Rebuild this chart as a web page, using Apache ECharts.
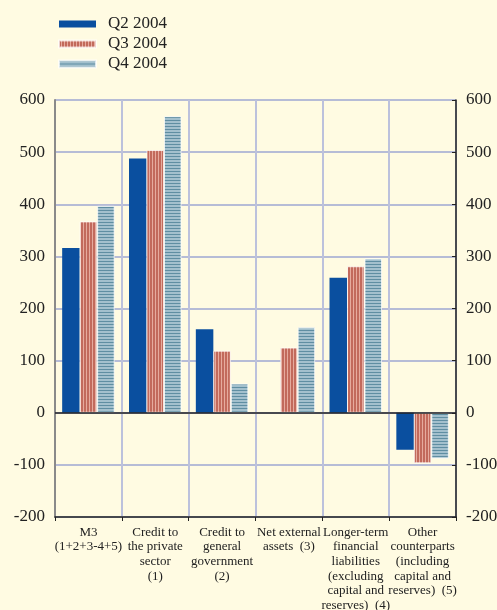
<!DOCTYPE html>
<html>
<head>
<meta charset="utf-8">
<script src="https://cdn.jsdelivr.net/npm/echarts@6/dist/echarts.min.js"></script>
<style>
  html, body { margin: 0; padding: 0; background: #fffbe2; }
  #chart { width: 497px; height: 610px; }
</style>
</head>
<body>
<div id="chart"></div>
<script>
// chart data
const categories = [
    'M3\n(1+2+3-4+5)',
    'Credit to\nthe private\nsector\n(1)',
    'Credit to\ngeneral\ngovernment\n(2)',
    'Net external\nassets  (3)',
    'Longer-term\nfinancial\nliabilities\n(excluding\ncapital and\nreserves)  (4)',
    'Other\ncounterparts\n(including\ncapital and\nreserves)  (5)'
];
const seriesNames = ['Q2 2004', 'Q3 2004', 'Q4 2004'];
const q2Values = [316, 488, 160, 0, 259, -71];
const q3Values = [367, 504, 119, 125, 281, -97];
const q4Values = [397, 569, 56, 164, 296, -88];
const yTicks = [-200, -100, 0, 100, 200, 300, 400, 500, 600];

const serif = '"Liberation Serif", "DejaVu Serif", serif';

// striped fills
const makePattern = (w, h, paint) => {
    const c = document.createElement('canvas');
    c.width = w;
    c.height = h;
    paint(c.getContext('2d'));
    return {image: c, repeat: 'repeat'};
};
const redStripes = makePattern(3, 1, ctx => {
    ctx.fillStyle = '#c26a5c';
    ctx.fillRect(0, 0, 2, 1);
    ctx.fillStyle = '#e6ab9e';
    ctx.fillRect(2, 0, 1, 1);
});
const blueStripes = makePattern(1, 3, ctx => {
    ctx.fillStyle = '#5f8ea2';
    ctx.fillRect(0, 0, 1, 1);
    ctx.fillStyle = '#a3c0cd';
    ctx.fillRect(0, 1, 1, 2);
});

const fills = ['#0a4f9f', redStripes, blueStripes];
const dataSets = [q2Values, q3Values, q4Values];

const chart = echarts.init(document.getElementById('chart'));

const series = seriesNames.map((name, i) => ({
    name: name,
    type: 'bar',
    data: dataSets[i],
    barWidth: 17.5,
    barGap: '0%',
    itemStyle: {
        color: fills[i],
        borderColor: i === 0 ? '#0a4f9f' : 'rgba(255,255,255,0.7)',
        borderWidth: i === 0 ? 0 : 1
    },
    markLine: i === 0 ? {
        silent: true,
        symbol: 'none',
        label: {show: false},
        lineStyle: {color: '#222', width: 1.5, type: 'solid'},
        data: [{yAxis: 0}]
    } : undefined
}));

const yAxisBase = {
    type: 'value',
    min: yTicks[0],
    max: yTicks[yTicks.length - 1],
    interval: 100,
    axisLabel: {fontFamily: serif, fontSize: 17, color: '#222'},
    splitLine: {show: false}
};

chart.setOption({
    backgroundColor: '#fffbe2',
    animation: false,
    legend: {
        orient: 'vertical',
        left: 53,
        top: 10,
        itemWidth: 37,
        itemHeight: 7,
        itemGap: 2,
        icon: 'rect',
        textStyle: {
            fontFamily: serif,
            fontSize: 17,
            color: '#222',
            lineHeight: 18,
            padding: [0, 0, 0, 7]
        },
        data: seriesNames
    },
    grid: {left: 55, right: 41, top: 100, bottom: 93, outerBoundsMode: 'none'},
    xAxis: {
        type: 'category',
        data: categories,
        axisLine: {onZero: false, lineStyle: {color: '#222', width: 1.5}},
        axisTick: {show: true, length: 4, lineStyle: {color: '#222'}},
        axisLabel: {
            interval: 0,
            fontFamily: serif,
            fontSize: 13,
            lineHeight: 14.6,
            color: '#222',
            margin: 8
        },
        splitLine: {show: true, lineStyle: {color: '#bcc1dc', width: 2}}
    },
    yAxis: [
        Object.assign({}, yAxisBase, {
            position: 'left',
            axisLine: {show: true, lineStyle: {color: '#8a8a8a', width: 2}},
            axisTick: {show: false},
            axisLabel: Object.assign({}, yAxisBase.axisLabel, {margin: 10}),
            splitLine: {show: true, lineStyle: {color: '#9ea7d2', width: 1.5}}
        }),
        Object.assign({}, yAxisBase, {
            position: 'right',
            axisLine: {show: true, lineStyle: {color: '#222', width: 1.5}},
            axisTick: {show: true, inside: true, length: 4, lineStyle: {color: '#222'}},
            axisLabel: Object.assign({}, yAxisBase.axisLabel, {margin: 10})
        })
    ],
    series: series
});
</script>
</body>
</html>
